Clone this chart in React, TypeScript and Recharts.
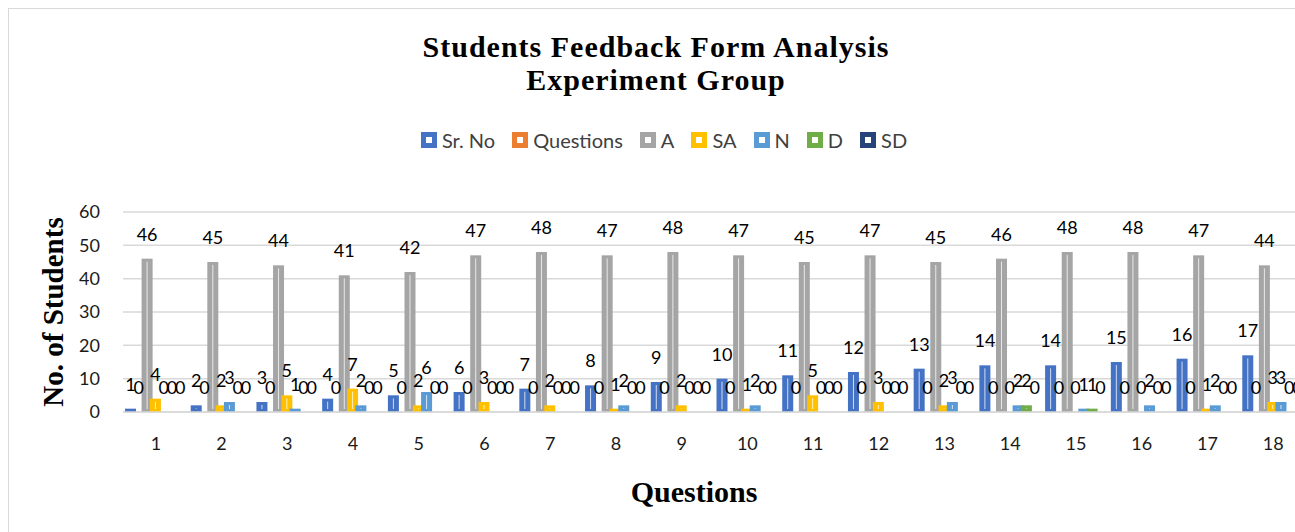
import { BarChart, Bar, XAxis, YAxis, CartesianGrid, Legend, LabelList } from "recharts";

const questionNos = ["1", "2", "3", "4", "5", "6", "7", "8", "9", "10", "11", "12", "13", "14", "15", "16", "17", "18"];
const srNo = [1, 2, 3, 4, 5, 6, 7, 8, 9, 10, 11, 12, 13, 14, 14, 15, 16, 17];
const questions = [0, 0, 0, 0, 0, 0, 0, 0, 0, 0, 0, 0, 0, 0, 0, 0, 0, 0];
const agree = [46, 45, 44, 41, 42, 47, 48, 47, 48, 47, 45, 47, 45, 46, 48, 48, 47, 44];
const stronglyAgree = [4, 2, 5, 7, 2, 3, 2, 1, 2, 1, 5, 3, 2, 0, 0, 0, 1, 3];
const neutral = [0, 3, 1, 2, 6, 0, 0, 2, 0, 2, 0, 0, 3, 2, 1, 2, 2, 3];
const disagree = [0, 0, 0, 0, 0, 0, 0, 0, 0, 0, 0, 0, 0, 2, 1, 0, 0, 0];
const stronglyDisagree = [0, 0, 0, 0, 0, 0, 0, 0, 0, 0, 0, 0, 0, 0, 0, 0, 0, 0];
const yTicks = [0, 10, 20, 30, 40, 50, 60];

const data = questionNos.map((q, i) => ({
  q,
  sr: srNo[i],
  questions: questions[i],
  a: agree[i],
  sa: stronglyAgree[i],
  n: neutral[i],
  d: disagree[i],
  sd: stronglyDisagree[i],
}));

const series = [
  { key: "sr", name: "Sr. No", color: "#4472C4" },
  { key: "questions", name: "Questions", color: "#ED7D31" },
  { key: "a", name: "A", color: "#A5A5A5" },
  { key: "sa", name: "SA", color: "#FFC000" },
  { key: "n", name: "N", color: "#5B9BD5" },
  { key: "d", name: "D", color: "#70AD47" },
  { key: "sd", name: "SD", color: "#264478" },
];

const labelFont = "Lato, 'Noto Sans', sans-serif";
const titleFont = "'Liberation Serif', 'Times New Roman', serif";

// bar with the thin light streak down the middle
function StreakBar(props: any) {
  const { x, y, width, height, fill } = props;
  if (!height || height <= 0) return <g />;
  const cx = x + width / 2;
  return (
    <g>
      <rect x={x} y={y} width={width} height={height} fill={fill} />
      {height > 5 && (
        <rect x={cx - 0.5} y={y + 3} width={1} height={height - 6} fill="#ffffff" opacity={0.75} />
      )}
    </g>
  );
}

function renderLegend() {
  return (
    <div style={{ display: "flex", justifyContent: "center", alignItems: "center", fontFamily: labelFont, fontSize: 20, lineHeight: "24px", color: "#404040" }}>
      {series.map((s, i) => (
        <div key={s.key} style={{ display: "flex", alignItems: "center", marginRight: i === series.length - 1 ? 0 : 17 }}>
          <span
            style={{
              display: "inline-block",
              width: 6,
              height: 6,
              border: `5px solid ${s.color}`,
              background: "#ffffff",
              marginRight: 5,
            }}
          />
          <span>{s.name}</span>
        </div>
      ))}
    </div>
  );
}

export default function App() {
  return (
    <>
      <style>{"body{margin:0;overflow:hidden}"}</style>
      <div
        style={{
          position: "relative",
          margin: "8px 0 0 8px",
          width: 1287,
          height: 524,
          overflow: "hidden",
          borderTop: "1px solid #d9d9d9",
          borderLeft: "1px solid #d9d9d9",
          background: "#ffffff",
        }}
      >
        <div
          style={{
            position: "absolute",
            left: 647 - 350,
            top: 21,
            width: 700,
            textAlign: "center",
            fontFamily: titleFont,
            fontWeight: "bold",
            fontSize: 30,
            letterSpacing: 1,
            lineHeight: "33px",
            color: "#000",
          }}
        >
          Students Feedback Form Analysis
          <br />
          Experiment Group
        </div>

        <div
          style={{
            position: "absolute",
            left: 44 - 150,
            top: 303 - 17,
            width: 300,
            height: 34,
            lineHeight: "34px",
            textAlign: "center",
            transform: "rotate(-90deg)",
            fontFamily: titleFont,
            fontWeight: "bold",
            fontSize: 29,
            color: "#000",
          }}
        >
          No. of Students
        </div>

        <div
          style={{
            position: "absolute",
            left: 685 - 150,
            top: 466,
            width: 300,
            textAlign: "center",
            fontFamily: titleFont,
            fontWeight: "bold",
            fontSize: 30,
            lineHeight: "33px",
            color: "#000",
          }}
        >
          Questions
        </div>

        <BarChart
          width={1320}
          height={523}
          data={data}
          margin={{ top: 203, right: 23, bottom: 64, left: 0 }}
          barSize={11}
          barGap={-2.7}
          barCategoryGap={0}
        >
          <CartesianGrid vertical={false} stroke="#d9d9d9" strokeWidth={1.5} />
          <XAxis
            dataKey="q"
            axisLine={{ stroke: "#d9d9d9", strokeWidth: 1.5 }}
            tickLine={false}
            tickMargin={19}
            height={56}
            interval={0}
            tick={{ fill: "#1a1a1a", fontSize: 18, fontFamily: labelFont }}
          />
          <YAxis
            domain={[0, 60]}
            ticks={yTicks}
            width={114}
            axisLine={false}
            tickLine={false}
            tickMargin={17}
            tick={{ fill: "#1a1a1a", fontSize: 18, fontFamily: labelFont }}
          />
          <Legend
            verticalAlign="middle"
            align="center"
            layout="horizontal"
            content={renderLegend}
            wrapperStyle={{ position: "absolute", top: 119, left: 0, width: 1310 }}
          />
          {series.map((s) => (
            <Bar key={s.key} dataKey={s.key} name={s.name} fill={s.color} shape={StreakBar} isAnimationActive={false}>
              <LabelList dataKey={s.key} position="top" offset={18} fill="#000" fontSize={18} fontFamily={labelFont} />
            </Bar>
          ))}
        </BarChart>
      </div>
    </>
  );
}
